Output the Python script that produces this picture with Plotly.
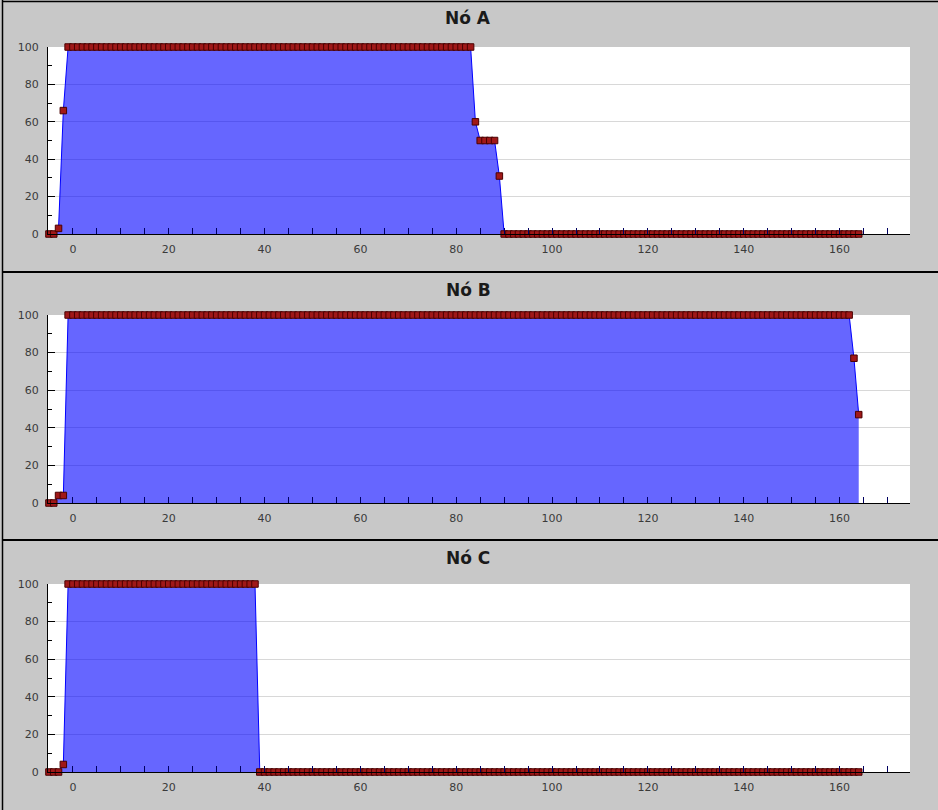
import plotly.graph_objects as go

# ---- data ----
x_vals = list(range(-5, 165))
node_a = [0, 0, 3, 66] + [100] * 85 + [60] + [50] * 4 + [31] + [0] * 75
node_b = [0, 0, 4, 4] + [100] * 164 + [77, 47]
node_c = [0, 0, 0, 4] + [100] * 40 + [0] * 126
titles = ["Nó A", "Nó B", "Nó C"]
y_ticks = [0, 20, 40, 60, 80, 100]
x_ticks = [0, 20, 40, 60, 80, 100, 120, 140, 160]

series = [node_a, node_b, node_c]

# ---- layout geometry (pixels) ----
W, H = 938, 810
x_left, x_right = 48, 910
tops = [47, 315, 584]
bottoms = [234, 503, 772]
title_y = [18, 290, 558]
separators = [272, 540]

BG = "#c8c8c8"
FILL = "rgba(0,0,255,0.6)"
LINE = "#0000ff"
MARK = "#a01818"
MARK_EDGE = "#4a0000"
TICKFONT = dict(family="DejaVu Sans", size=11, color="#3a3a3a")

fig = go.Figure()
layout = dict(
    width=W, height=H,
    margin=dict(l=0, r=0, t=0, b=0, pad=0, autoexpand=False),
    paper_bgcolor=BG, plot_bgcolor="white",
    showlegend=False,
    annotations=[], shapes=[],
)

for i, (vals, title) in enumerate(zip(series, titles)):
    n = "" if i == 0 else str(i + 1)
    fig.add_trace(go.Scatter(
        x=x_vals, y=vals, mode="lines+markers",
        xaxis="x" + n, yaxis="y" + n,
        fill="tozeroy", fillcolor=FILL,
        line=dict(color=LINE, width=1),
        marker=dict(symbol="square", size=6.5, color=MARK,
                    line=dict(color=MARK_EDGE, width=1)),
        cliponaxis=False, hoverinfo="x+y",
    ))
    layout["xaxis" + n] = dict(
        domain=[x_left / W, x_right / W],
        anchor="y" + n,
        range=[-5.2, 174.7],
        tickvals=x_ticks,
        ticks="inside", ticklen=6, tickcolor="#000060", tickwidth=1,
        minor=dict(dtick=5, tick0=0, ticks="inside", ticklen=6, tickcolor="#000060"),
        showgrid=False, zeroline=False,
        showline=True, linecolor="black", linewidth=1,
        tickfont=TICKFONT, ticklabelstandoff=5, automargin=False,
        fixedrange=True,
    )
    layout["yaxis" + n] = dict(
        domain=[1 - bottoms[i] / H, 1 - tops[i] / H],
        anchor="x" + n,
        range=[0, 100],
        tickvals=y_ticks,
        ticks="inside", ticklen=7, tickcolor="black",
        minor=dict(dtick=10, tick0=0, ticks="inside", ticklen=4, tickcolor="black",
                   showgrid=False),
        showgrid=True, gridcolor="#d8d8d8", gridwidth=1,
        zeroline=False,
        showline=True, linecolor="black", linewidth=1,
        tickfont=TICKFONT, ticklabelstandoff=6, automargin=False,
        fixedrange=True,
    )
    layout["annotations"].append(dict(
        text="<b>%s</b>" % title, xref="paper", yref="paper",
        x=468 / W, y=1 - title_y[i] / H, xanchor="center", yanchor="middle",
        showarrow=False, font=dict(family="DejaVu Sans", size=17, color="#1a1a1a"),
    ))

for sy in separators:
    layout["shapes"].append(dict(
        type="line", xref="paper", yref="paper",
        x0=2 / W, x1=1, y0=1 - sy / H, y1=1 - sy / H,
        line=dict(color="black", width=2),
    ))
layout["shapes"].append(dict(type="line", xref="paper", yref="paper",
                             x0=2.5 / W, x1=2.5 / W, y0=0, y1=1,
                             line=dict(color="black", width=1.5)))
layout["shapes"].append(dict(type="line", xref="paper", yref="paper",
                             x0=2 / W, x1=1, y0=1 - 1.5 / H, y1=1 - 1.5 / H,
                             line=dict(color="black", width=1.5)))

fig.update_layout(**layout)
fig.write_html(
    "out.html",
    config={"displayModeBar": False},
    post_script="document.body.style.margin='0';document.body.style.overflow='hidden';",
)
